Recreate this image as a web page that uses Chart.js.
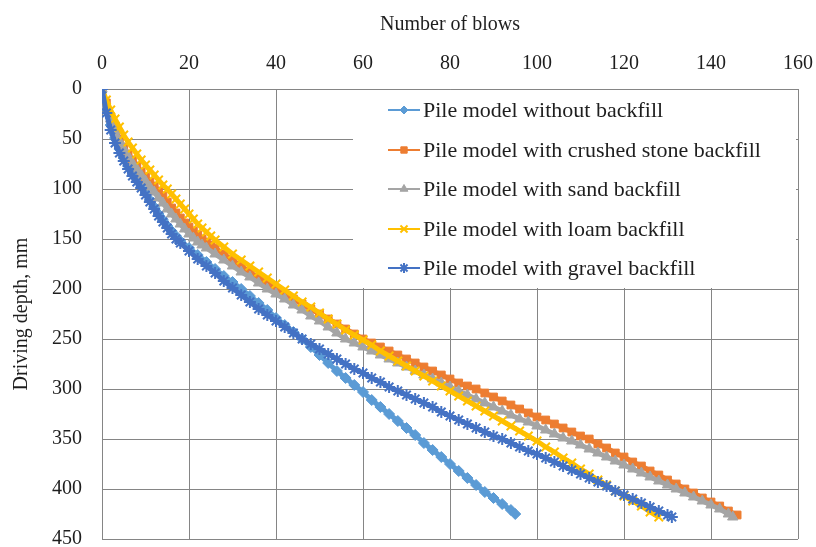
<!DOCTYPE html>
<html>
<head>
<meta charset="utf-8">
<script src="https://cdn.jsdelivr.net/npm/chart.js@4.4.1/dist/chart.umd.min.js"></script>
<style>
  html, body { margin: 0; padding: 0; background: #fff; }
  #wrap { width: 816px; height: 547px; position: relative; }
</style>
</head>
<body>
<div id="wrap"><canvas id="c" width="816" height="547"></canvas></div>
<script>
// ---- Data ----
const seriesNames = [
  'Pile model without backfill',
  'Pile model with crushed stone backfill',
  'Pile model with sand backfill',
  'Pile model with loam backfill',
  'Pile model with gravel backfill'
];

const blowsNoBackfill = [0,1,2,3,4,5,6,7,8,9,10,11,12,13,14,15,16,17,18,20,22,24,26,28,30,32,34,36,38,40,42,44,46,48,50,52,54,56,58,60,62,64,66,68,70,72,74,76,78,80,82,84,86,88,90,92,94,95];
const depthNoBackfill = [0,20,36,49,60,69,77,84,90,96,104,111,118,125,131,137,142,147,152,159,166,173,180,187,193,200,207,214,221,229,236,243,250,258,266,274,282,289,296,303,311,318,325,332,339,346,354,361,368,375,382,389,396,403,409,415,421,425];

const blowsCrushed = [0,1,2,3,4,5,6,7,8,9,10,11,12,13,14,15,16,17,18,19,20,21,22,23,24,25,26,28,30,32,34,36,38,40,42,44,46,48,50,52,54,56,58,60,62,64,66,68,70,72,74,76,78,80,82,84,86,88,90,92,94,96,98,100,102,104,106,108,110,112,114,116,118,120,122,124,126,128,130,132,134,136,138,140,142,144,146];
const depthCrushed = [0,14,28,40,50,58,65,71,77,83,88,93,97,102,107,113,119,124,129,134,138,142,146,150,153,156,159,165,171,177,183,189,194,200,205,210,215,220,225,230,235,240,245,250,254,258,262,266,270,274,278,282,286,290,294,297,300,304,308,312,316,320,324,328,331,335,339,343,347,350,355,359,364,368,373,377,382,386,391,395,400,404,409,413,417,422,426];

const blowsSand = [0,1,2,3,4,5,6,7,8,9,10,11,12,13,14,15,16,17,18,19,20,21,22,23,24,26,28,30,32,34,36,38,40,42,44,46,48,50,52,54,56,58,60,62,64,66,68,70,72,74,76,78,80,82,84,86,88,90,92,94,96,98,100,102,104,106,108,110,112,114,116,118,120,122,124,126,128,130,132,134,136,138,140,142,144,145];
const depthSand = [0,16,30,42,52,60,67,74,80,86,92,98,103,109,114,120,125,130,135,140,145,149,153,156,159,165,171,177,183,188,194,200,205,210,216,221,227,232,238,244,250,254,258,262,266,270,274,278,282,286,290,294,298,302,306,310,314,318,322,326,330,333,337,341,345,349,352,356,360,364,368,372,376,380,384,388,392,396,400,404,408,412,416,420,425,428];

const blowsLoam = [0,1,2,3,4,5,6,7,8,9,10,11,12,13,14,15,16,17,18,19,20,21,22,23,24,25,26,28,30,32,34,36,38,40,42,44,46,48,50,52,54,56,58,60,62,64,66,68,70,72,74,76,78,80,82,84,86,88,90,92,94,96,98,100,102,104,106,108,110,112,114,116,118,120,122,124,126,128];
const depthLoam = [0,11,21,30,38,46,53,59,65,71,76,81,86,91,96,100,105,110,115,120,125,130,135,139,143,147,151,158,165,171,177,183,189,195,201,207,213,218,224,230,235,241,246,251,256,262,267,272,277,282,287,292,297,302,307,312,317,322,327,332,337,342,347,352,358,363,369,374,380,385,391,396,402,407,412,417,423,428];

const blowsGravel = [0,1,2,3,4,5,6,7,8,9,10,11,12,13,14,15,16,17,18,20,22,24,26,28,30,32,34,36,38,40,42,44,46,48,50,52,54,56,58,60,62,64,66,68,70,72,74,76,78,80,82,84,86,88,90,92,94,96,98,100,102,104,106,108,110,112,114,116,118,120,122,124,126,128,130,131];
const depthGravel = [0,24,41,54,64,72,80,87,93,99,106,113,120,127,133,139,145,150,154,162,170,177,184,192,199,206,213,220,226,232,238,244,250,255,260,265,270,275,280,284,289,293,298,302,306,310,314,318,323,327,331,335,339,343,347,350,354,358,362,365,369,373,377,381,385,389,393,397,402,406,410,414,418,422,426,428];

const xMin = 0, xMax = 160, xStep = 20;
const yMin = 0, yMax = 450, yStep = 50;
const xTitle = 'Number of blows';
const yTitle = 'Driving depth, mm';

// ---- Styles ----
const colors = ['#5B9BD5', '#ED7D31', '#A5A5A5', '#FFC000', '#4472C4'];
const styles = ['rectRot', 'rect', 'triangle', 'crossRot', 'star'];
const radii = [5.5, 5.5, 6, 6, 6];
const legendRadii = [4, 4.5, 4.5, 5, 5];
const gridColor = '#858585';
const textColor = '#1e1e1e';
const serif = "'Liberation Serif', 'Times New Roman', serif";

function pts(bx, dy) { return bx.map((b, i) => ({ x: b, y: dy[i] })); }
const seriesData = [
  pts(blowsNoBackfill, depthNoBackfill),
  pts(blowsCrushed, depthCrushed),
  pts(blowsSand, depthSand),
  pts(blowsLoam, depthLoam),
  pts(blowsGravel, depthGravel)
];

function isStroke(s) { return s === 'crossRot' || s === 'star'; }

const datasets = seriesData.map((d, i) => ({
  label: seriesNames[i],
  data: d,
  showLine: true,
  borderColor: colors[i],
  backgroundColor: colors[i],
  borderWidth: 5,
  pointStyle: styles[i],
  pointRadius: radii[i],
  pointBorderWidth: isStroke(styles[i]) ? 2 : 1,
  pointBackgroundColor: colors[i],
  pointBorderColor: colors[i],
  pointHoverRadius: radii[i],
  tension: 0,
  order: 5 - i
}));

// legend drawn inside the plot area, on a white box
const boxLegend = {
  id: 'boxLegend',
  beforeDatasetsDraw(chart) {
    const { ctx, chartArea: a } = chart;
    ctx.save();
    ctx.fillStyle = '#ffffff';
    ctx.fillRect(a.left + 251, a.top + 1, a.right - a.left - 253, 198);
    ctx.restore();
  },
  afterDatasetsDraw(chart) {
    const { ctx, chartArea: a } = chart;
    const x0 = a.left + 286, x1 = a.left + 318, tx = a.left + 321;
    const ys = [110, 150, 189, 229, 268];
    ctx.save();
    seriesNames.forEach((name, i) => {
      const y = ys[i];
      ctx.strokeStyle = colors[i];
      ctx.fillStyle = colors[i];
      ctx.lineWidth = 2;
      ctx.beginPath();
      ctx.moveTo(x0, y);
      ctx.lineTo(x1, y);
      ctx.stroke();
      const bw = isStroke(styles[i]) ? 2 : 1;
      ctx.lineWidth = bw;
      if (Chart.helpers && Chart.helpers.drawPoint) {
        Chart.helpers.drawPoint(ctx, { pointStyle: styles[i], radius: legendRadii[i], rotation: 0, borderWidth: bw }, (x0 + x1) / 2, y);
      }
      ctx.fillStyle = textColor;
      ctx.font = "22px " + serif;
      ctx.textBaseline = 'middle';
      ctx.textAlign = 'left';
      ctx.fillText(name, tx, y + 1);
    });
    ctx.restore();
  }
};

new Chart(document.getElementById('c'), {
  type: 'scatter',
  data: { datasets },
  plugins: [boxLegend],
  options: {
    responsive: false,
    animation: false,
    devicePixelRatio: 1,
    layout: { padding: { left: 0, top: 0, right: 18, bottom: 8 } },
    plugins: {
      legend: { display: false },
      tooltip: { enabled: false }
    },
    scales: {
      x: {
        type: 'linear',
        position: 'top',
        min: xMin, max: xMax,
        ticks: { stepSize: xStep, color: textColor, font: { family: serif, size: 20 }, padding: 13, maxRotation: 0 },
        grid: { color: gridColor, lineWidth: 1, drawTicks: false },
        border: { color: gridColor, width: 1 },
        title: { display: true, text: xTitle, color: textColor, font: { family: serif, size: 20 }, padding: { top: 13, bottom: 0 } },
        afterFit(s) { s.height = 89; s.paddingLeft = 0; s.paddingRight = 0; }
      },
      y: {
        type: 'linear',
        position: 'left',
        reverse: true,
        min: yMin, max: yMax,
        ticks: { stepSize: yStep, color: textColor, font: { family: serif, size: 20 }, padding: 20 },
        grid: { color: gridColor, lineWidth: 1, drawTicks: false },
        border: { color: gridColor, width: 1 },
        title: { display: true, text: yTitle, color: textColor, font: { family: serif, size: 20 }, padding: { top: 10, bottom: 0 } },
        afterFit(s) { s.width = 102; s.paddingTop = 0; s.paddingBottom = 0; }
      }
    }
  }
});
</script>
</body>
</html>
